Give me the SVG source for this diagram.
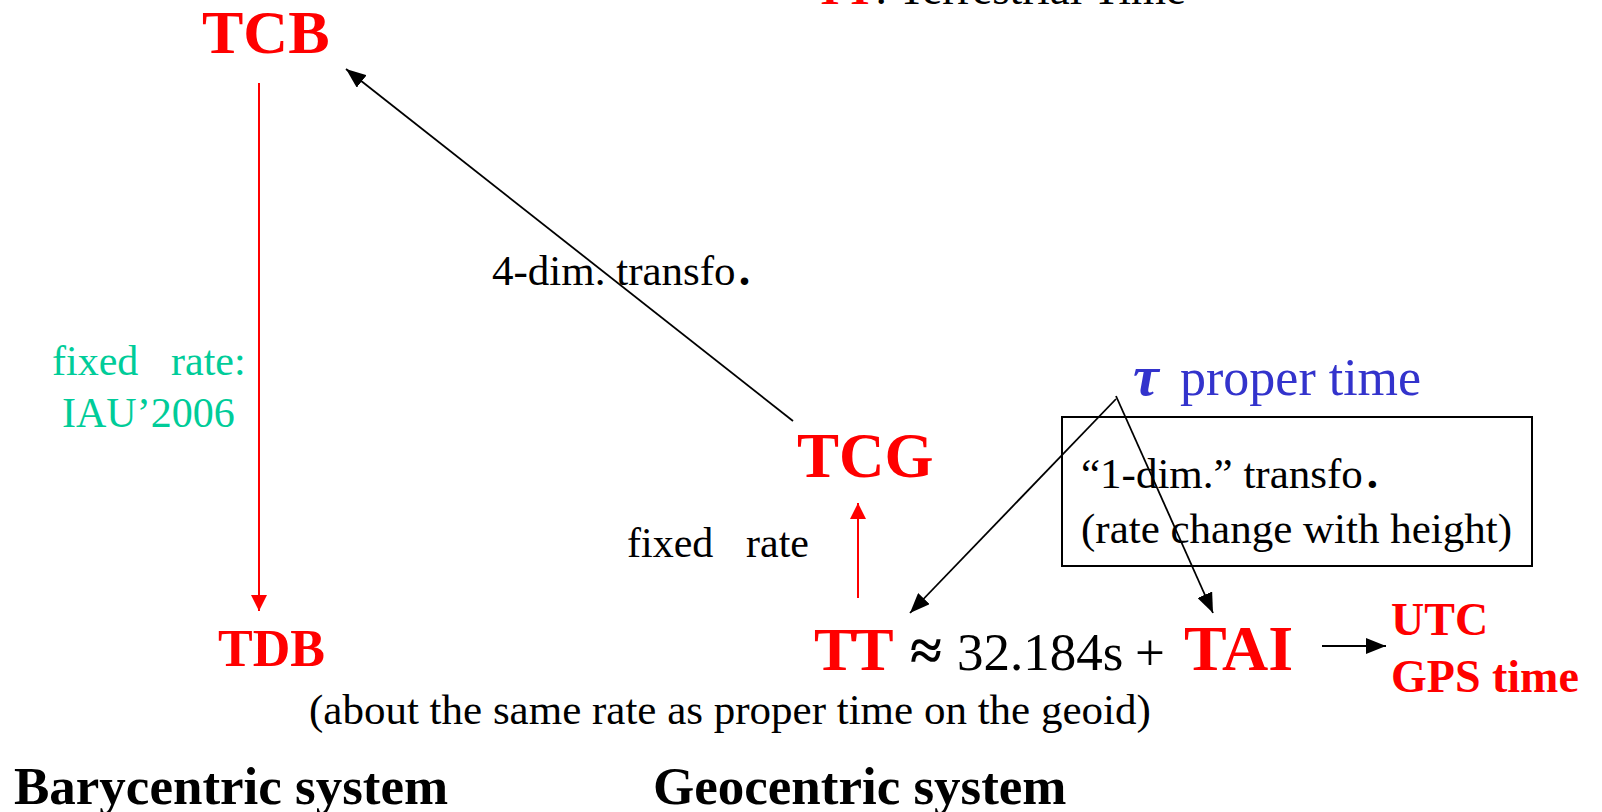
<svg xmlns="http://www.w3.org/2000/svg" width="1602" height="812" viewBox="0 0 1602 812">
<style>
text{font-family:"Liberation Serif","Times New Roman",serif}
.red{fill:#FF0000;font-weight:bold}
.blk{fill:#000}
.grn{fill:#00CC99}
.blu{fill:#3333CC}
.bl{stroke:#000;stroke-width:1.8;fill:none}
.rl{stroke:#FF0000;stroke-width:2;fill:none}
</style>
<defs>
<marker id="ab" viewBox="0 0 20 16" refX="20" refY="8" markerWidth="20" markerHeight="16" markerUnits="userSpaceOnUse" orient="auto">
<path d="M0,0 L20,8 L0,16 z" fill="#000"/>
</marker>
<marker id="ar" viewBox="0 0 16 16" refX="16" refY="8" markerWidth="16" markerHeight="16" markerUnits="userSpaceOnUse" orient="auto">
<path d="M0,0 L16,8 L0,16 z" fill="#FF0000"/>
</marker>
</defs>
<g id="title"><text x="815" y="4" font-size="45"><tspan class="red" font-weight="normal">TT</tspan><tspan class="blk">: Terrestrial Time</tspan></text></g>
<g id="connectors">
<line class="rl" x1="259" y1="83" x2="259" y2="611" marker-end="url(#ar)"/>
<line class="bl" x1="793" y1="421" x2="346" y2="69" marker-end="url(#ab)"/>
<line class="rl" x1="858" y1="598" x2="858" y2="503" marker-end="url(#ar)"/>
<line class="bl" x1="1116" y1="399" x2="910" y2="613" marker-end="url(#ab)"/>
<line class="bl" x1="1116" y1="396" x2="1213" y2="613" marker-end="url(#ab)"/>
<line class="bl" x1="1322" y1="646" x2="1386" y2="646" marker-end="url(#ab)"/>
</g>
<g id="TCB"><text class="red" x="202" y="53" font-size="62">TCB</text></g>
<g id="TDB"><text class="red" x="218" y="666" font-size="52">TDB</text></g>
<g id="TCG"><text class="red" x="797" y="477" font-size="63">TCG</text></g>
<g id="fixed-rate-iau">
<text class="grn" x="52" y="375" font-size="42">fixed</text>
<text class="grn" x="171" y="375" font-size="42">rate:</text>
<text class="grn" x="62" y="427" font-size="42">IAU’2006</text>
</g>
<g id="label-4dim"><text class="blk" x="492" y="285" font-size="43">4-dim. transfo<tspan font-weight="bold" font-size="46" dx="3">.</tspan></text></g>
<g id="fixed-rate"><text class="blk" x="627" y="557" font-size="42">fixed</text><text class="blk" x="746" y="557" font-size="42">rate</text></g>
<g id="proper-time">
<text class="blu" x="1133" y="395" font-size="58" font-weight="bold" font-style="italic">τ</text>
<text class="blu" x="1180" y="395" font-size="52">proper time</text>
</g>
<g id="box">
<rect x="1062" y="417" width="470" height="149" fill="none" stroke="#000" stroke-width="2"/>
<text class="blk" x="1081" y="488" font-size="43">“1-dim.” transfo<tspan font-weight="bold" font-size="45" dx="4">.</tspan></text>
<text class="blk" x="1081" y="543" font-size="43">(rate change with height)</text>
</g>
<g id="TT-TAI">
<text class="red" x="814" y="670" font-size="62" letter-spacing="-3">TT</text>
<text class="blk" x="910" y="670" font-size="58" font-weight="bold">≈</text>
<text class="blk" x="957" y="670" font-size="53">32.184s</text>
<text class="blk" x="1135" y="670" font-size="53">+</text>
<text class="red" x="1184" y="670" font-size="64">TAI</text>
</g>
<g id="UTC-GPS">
<text class="red" x="1391" y="635" font-size="46">UTC</text>
<text class="red" x="1391" y="692" font-size="46">GPS time</text>
</g>
<g id="note"><text class="blk" x="309" y="724" font-size="43">(about the same rate as proper time on the geoid)</text></g>
<g id="systems">
<text class="blk" x="14" y="804" font-size="53" font-weight="bold">Barycentric system</text>
<text class="blk" x="653" y="804" font-size="53" font-weight="bold">Geocentric system</text>
</g>
</svg>
